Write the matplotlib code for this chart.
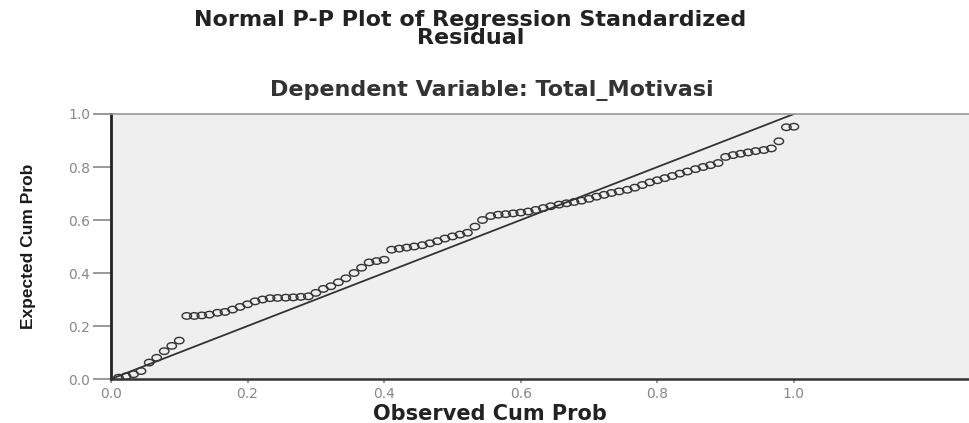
import numpy as np
import matplotlib.pyplot as plt
from matplotlib.path import Path
from matplotlib.transforms import Affine2D

# Observed vs expected cumulative probability
obs_cum = [0.011, 0.022, 0.033, 0.044, 0.056, 0.067, 0.078, 0.089, 0.100, 0.111,
           0.122, 0.133, 0.144, 0.156, 0.167, 0.178, 0.189, 0.200, 0.211, 0.222,
           0.233, 0.244, 0.256, 0.267, 0.278, 0.289, 0.300, 0.311, 0.322, 0.333,
           0.344, 0.356, 0.367, 0.378, 0.389, 0.400, 0.411, 0.422, 0.433, 0.444,
           0.456, 0.467, 0.478, 0.489, 0.500, 0.511, 0.522, 0.533, 0.544, 0.556,
           0.567, 0.578, 0.589, 0.600, 0.611, 0.622, 0.633, 0.644, 0.656, 0.667,
           0.678, 0.689, 0.700, 0.711, 0.722, 0.733, 0.744, 0.756, 0.767, 0.778,
           0.789, 0.800, 0.811, 0.822, 0.833, 0.844, 0.856, 0.867, 0.878, 0.889,
           0.900, 0.911, 0.922, 0.933, 0.944, 0.956, 0.967, 0.978, 0.989, 1.000]
exp_cum = [0.005, 0.010, 0.018, 0.030, 0.062, 0.080, 0.105, 0.125, 0.145, 0.238,
           0.238, 0.240, 0.243, 0.250, 0.253, 0.262, 0.272, 0.282, 0.293, 0.300,
           0.305, 0.306, 0.307, 0.308, 0.310, 0.312, 0.325, 0.340, 0.350, 0.365,
           0.380, 0.400, 0.420, 0.440, 0.445, 0.450, 0.488, 0.492, 0.496, 0.500,
           0.505, 0.512, 0.520, 0.530, 0.538, 0.545, 0.552, 0.575, 0.600, 0.615,
           0.620, 0.622, 0.625, 0.628, 0.632, 0.638, 0.645, 0.652, 0.658, 0.663,
           0.668, 0.673, 0.680, 0.688, 0.695, 0.702, 0.708, 0.714, 0.722, 0.732,
           0.742, 0.750, 0.758, 0.766, 0.775, 0.783, 0.792, 0.800, 0.807, 0.815,
           0.838, 0.845, 0.850, 0.855, 0.860, 0.864, 0.870, 0.897, 0.950, 0.952]

ticks = [0.0, 0.2, 0.4, 0.6, 0.8, 1.0]
tick_labels = ['0.0', '0.2', '0.4', '0.6', '0.8', '1.0']
ref_line = [0.0, 1.0]

fig = plt.figure(figsize=(9.7, 4.23), dpi=100)
ax = fig.add_axes([0.1144, 0.104, 0.885, 0.6265])
ax.set_facecolor('#efefef')

# wide ellipse marker, like the stretched circles of the original
ell = Path.unit_circle().transformed(Affine2D().scale(1.45, 1.0))
ax.plot(ref_line, ref_line, color='#333333', lw=1.3, zorder=2)
ax.scatter(obs_cum, exp_cum, marker=ell, s=46, facecolors='none',
           edgecolors='#333333', linewidths=1.0, zorder=3)

ax.set_xlim(0, 1.257)
ax.set_ylim(0, 1.0)
ax.set_xticks(ticks)
ax.set_xticklabels(tick_labels)
ax.set_yticks(ticks)
ax.set_yticklabels(tick_labels)

ax.spines['left'].set_color('#222222')
ax.spines['left'].set_linewidth(2.0)
ax.spines['bottom'].set_color('#333333')
ax.spines['bottom'].set_linewidth(1.8)
ax.spines['top'].set_color('#999999')
ax.spines['top'].set_linewidth(1.2)
ax.spines['right'].set_visible(False)

ax.tick_params(axis='y', length=13, width=1.2, color='#888888', pad=2,
               labelsize=10, labelcolor='#888888')
ax.tick_params(axis='x', length=3, width=1.2, color='#888888', pad=3,
               labelsize=10, labelcolor='#888888')

ax.set_xlabel('Observed Cum Prob', fontsize=15, fontweight='bold',
              color='#222222')
ax.xaxis.label.set_va('center')
ax.xaxis.set_label_coords(0.442, -0.132)
ax.set_ylabel('Expected Cum Prob', fontsize=12.5, fontweight='bold',
              family=['Liberation Sans', 'DejaVu Sans'], color='#1a1a1a')
ax.yaxis.label.set_va('center')
ax.yaxis.set_label_coords(-0.0966, 0.5)

fig.text(0.485, 0.932, 'Normal P-P Plot of Regression Standardized\nResidual',
         ha='center', va='center', fontsize=16, fontweight='bold',
         color='#222222', linespacing=0.88)
fig.text(0.507, 0.787, 'Dependent Variable: Total_Motivasi', ha='center',
         va='center', fontsize=16, fontweight='bold', color='#333333')

plt.savefig('out.png', dpi=100)
